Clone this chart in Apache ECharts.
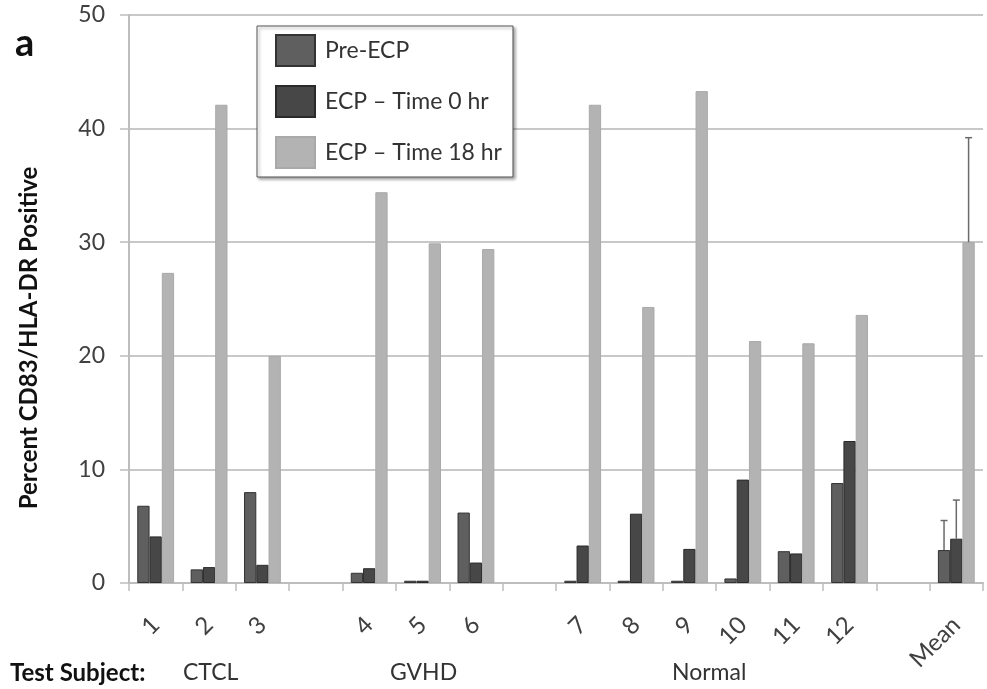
<!DOCTYPE html>
<html>
<head>
<meta charset="utf-8">
<script src="https://cdn.jsdelivr.net/npm/echarts@6/dist/echarts.min.js"></script>
<style>
html,body{margin:0;padding:0;background:#fff;}
#chart{width:987px;height:689px;}
</style>
</head>
<body>
<div id="chart"></div>
<script>
var categories = ['1','2','3',' ','4','5','6','  ','7','8','9','10','11','12','   ','Mean'];
var seriesNames = ['Pre-ECP', 'ECP \u2013 Time 0 hr', 'ECP \u2013 Time 18 hr'];
var preECP  = [6.8, 1.2, 8.0, null, 0.9, 0.2, 6.2, null, 0.2, 0.2, 0.2, 0.4, 2.8, 8.8, null, 2.9];
var ecp0hr  = [4.1, 1.4, 1.6, null, 1.3, 0.2, 1.8, null, 3.3, 6.1, 3.0, 9.1, 2.6, 12.5, null, 3.9];
var ecp18hr = [27.3, 42.1, 20.0, null, 34.4, 29.9, 29.4, null, 42.1, 24.3, 43.3, 21.3, 21.1, 23.6, null, 30.0];
var meanIndex = 15;
var meanErrPlus = [2.6, 3.4, 9.2];
var yTicks = [0, 10, 20, 30, 40, 50];
var yAxisTitle = 'Percent CD83/HLA-DR Positive';
var groupLabels = ['CTCL', 'GVHD', 'Normal'];

var FONT = 'Lato, "Open Sans", sans-serif';
var barCatGap = 0.31;
var seriesVals = [preECP, ecp0hr, ecp18hr];
var errData = meanErrPlus.map(function (e, i) {
  return [meanIndex, seriesVals[i][meanIndex], e, i - 1];
});

var chart = echarts.init(document.getElementById('chart'));
chart.setOption({
  animation: false,
  backgroundColor: '#fff',
  grid: { left: 129, right: 4, top: 15, bottom: 106 },
  legend: {
    data: seriesNames,
    orient: 'vertical',
    left: 257, top: 26,
    padding: [8, 11, 8, 18],
    itemWidth: 39, itemHeight: 31, itemGap: 18,
    backgroundColor: '#fff',
    borderColor: '#555', borderWidth: 1,
    shadowColor: 'rgba(0,0,0,0.35)', shadowBlur: 3, shadowOffsetX: 2, shadowOffsetY: 2,
    icon: 'rect',
    textStyle: { fontFamily: FONT, fontSize: 23, color: '#333', padding: [0, 0, 0, 5] }
  },
  xAxis: {
    type: 'category',
    data: categories,
    axisLine: { lineStyle: { color: '#bdbdbd', width: 2 } },
    axisTick: { show: true, length: 8, lineStyle: { color: '#bdbdbd', width: 1.5 } },
    axisLabel: { rotate: 45, margin: 38, interval: 0, fontFamily: FONT, fontSize: 24, color: '#404040' },
    splitLine: { show: false }
  },
  yAxis: {
    type: 'value',
    min: 0, max: 50, interval: 10,
    axisLine: { show: true, lineStyle: { color: '#bdbdbd', width: 2 } },
    axisTick: { show: true, length: 9, lineStyle: { color: '#bdbdbd', width: 1.5 } },
    axisLabel: {
      margin: 24, fontFamily: FONT, fontSize: 23, color: '#404040',
      formatter: function (v) { return yTicks.indexOf(v) >= 0 ? String(v) : ''; }
    },
    splitLine: { lineStyle: { color: '#c8c8c8', width: 2 } }
  },
  series: [
    {
      name: seriesNames[0], type: 'bar', data: preECP,
      barGap: '0%', barCategoryGap: (barCatGap * 100) + '%',
      itemStyle: { color: '#5f5f5f', borderColor: '#333', borderWidth: 1 }
    },
    {
      name: seriesNames[1], type: 'bar', data: ecp0hr,
      barGap: '0%', barCategoryGap: (barCatGap * 100) + '%',
      itemStyle: { color: '#474747', borderColor: '#2a2a2a', borderWidth: 1 }
    },
    {
      name: seriesNames[2], type: 'bar', data: ecp18hr,
      barGap: '0%', barCategoryGap: (barCatGap * 100) + '%',
      itemStyle: { color: '#b3b3b3', borderColor: '#a9a9a9', borderWidth: 1 }
    },
    {
      name: 'err', type: 'custom', data: errData, z: 10,
      renderItem: function (params, api) {
        var idx = api.value(0), v = api.value(1), e = api.value(2), s = api.value(3);
        var bw = api.size([1, 0])[0] * (1 - barCatGap) / 3;
        var p0 = api.coord([idx, v]);
        var p1 = api.coord([idx, v + e]);
        var x = p0[0] + s * bw;
        var st = { stroke: '#6a6a6a', lineWidth: 1.5 };
        return {
          type: 'group',
          children: [
            { type: 'line', shape: { x1: x, y1: p0[1], x2: x, y2: p1[1] }, style: st },
            { type: 'line', shape: { x1: x - 3.5, y1: p1[1], x2: x + 3.5, y2: p1[1] }, style: st }
          ]
        };
      }
    }
  ],
  graphic: [
    { type: 'text', left: 15, top: 25, style: { text: 'a', font: 'bold 38px ' + FONT, fill: '#111' } },
    { type: 'text', x: 29, y: 338, rotation: Math.PI / 2,
      style: { text: yAxisTitle, font: 'bold 24px ' + FONT, fill: '#111', align: 'center', verticalAlign: 'middle' } },
    { type: 'text', left: 10, top: 661, style: { text: 'Test Subject:', font: 'bold 24px ' + FONT, fill: '#111' } },
    { type: 'text', left: 183, top: 661, style: { text: groupLabels[0], font: '23px ' + FONT, fill: '#333' } },
    { type: 'text', left: 390, top: 661, style: { text: groupLabels[1], font: '23px ' + FONT, fill: '#333' } },
    { type: 'text', left: 672, top: 661, style: { text: groupLabels[2], font: '23px ' + FONT, fill: '#333' } }
  ]
});
</script>
</body>
</html>
